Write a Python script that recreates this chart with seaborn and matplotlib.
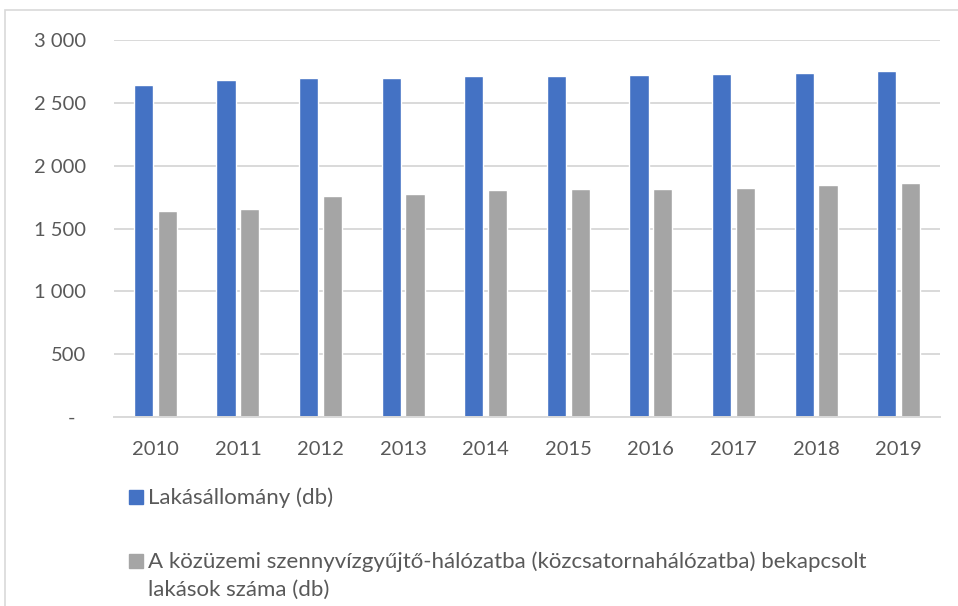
import numpy as np
import pandas as pd
import matplotlib
matplotlib.use('Agg')
import matplotlib.pyplot as plt
from matplotlib.patches import Rectangle
import seaborn as sns

# --- Data ---
YEARS = ['2010', '2011', '2012', '2013', '2014', '2015', '2016', '2017', '2018', '2019']
LAKASALLOMANY = [2641, 2678, 2694, 2694, 2710, 2715, 2718, 2729, 2739, 2755]
BEKAPCSOLT = [1636, 1652, 1756, 1772, 1803, 1811, 1814, 1822, 1843, 1859]
SERIES_NAMES = ['Lakásállomány (db)',
                'A közüzemi szennyvízgyűjtő-hálózatba (közcsatornahálózatba) bekapcsolt\nlakások száma (db)']
Y_TICKS = [0, 500, 1000, 1500, 2000, 2500, 3000]
Y_TICK_LABELS = ['-  ', '500', '1 000', '1 500', '2 000', '2 500', '3 000']

# --- Style ---
COLORS = ['#4472C4', '#A5A5A5']
TEXT_COLOR = '#595959'
GRID_COLOR = '#D9D9D9'
W, H = 958, 606

sns.set_theme(style='white')
plt.rcParams['font.family'] = ['Lato', 'DejaVu Sans']

df = pd.DataFrame({
    'year': YEARS * 2,
    'value': LAKASALLOMANY + BEKAPCSOLT,
    'series': [SERIES_NAMES[0]] * len(YEARS) + [SERIES_NAMES[1]] * len(YEARS),
})

fig = plt.figure(figsize=(W / 100, H / 100), dpi=100)
ax = fig.add_axes([114 / W, 1 - 417 / H, (940 - 114) / W, (417 - 40) / H])

sns.barplot(data=df, x='year', y='value', hue='series', palette=COLORS,
            width=0.58, gap=0.2, saturation=1, legend=False, ax=ax)

ax.set_ylim(0, 3000)
ax.set_yticks(Y_TICKS)
ax.set_yticklabels(Y_TICK_LABELS)
ax.set_xlabel('')
ax.set_ylabel('')
ax.yaxis.grid(True, color=GRID_COLOR, linewidth=1.4)
ax.set_axisbelow(True)
for s in ['top', 'right', 'left']:
    ax.spines[s].set_visible(False)
ax.spines['bottom'].set_color(GRID_COLOR)
ax.spines['bottom'].set_linewidth(1.4)
ax.tick_params(axis='both', length=0, labelsize=14.5, labelcolor=TEXT_COLOR)
ax.tick_params(axis='y', pad=20)
ax.tick_params(axis='x', pad=17)

# chart area border
fig.patches.append(Rectangle((5 / W, -0.1), 1.2, 1.1 - 10 / H, transform=fig.transFigure,
                             fill=False, edgecolor=GRID_COLOR, linewidth=1.2))

# legend (handle aligned with the first line, as in Excel)
rows = [497, 561]
for name, color, yc in zip(SERIES_NAMES, COLORS, rows):
    fig.patches.append(Rectangle((129 / W, 1 - (yc + 7) / H), 14 / W, 14 / H,
                                 transform=fig.transFigure, color=color))
    for i, line in enumerate(name.split('\n')):
        fig.text(148 / W, 1 - (yc + 1 + i * 28) / H, line, fontsize=16.0,
                 color=TEXT_COLOR, va='center', ha='left')

fig.savefig('out.png', dpi=100, facecolor='white')
